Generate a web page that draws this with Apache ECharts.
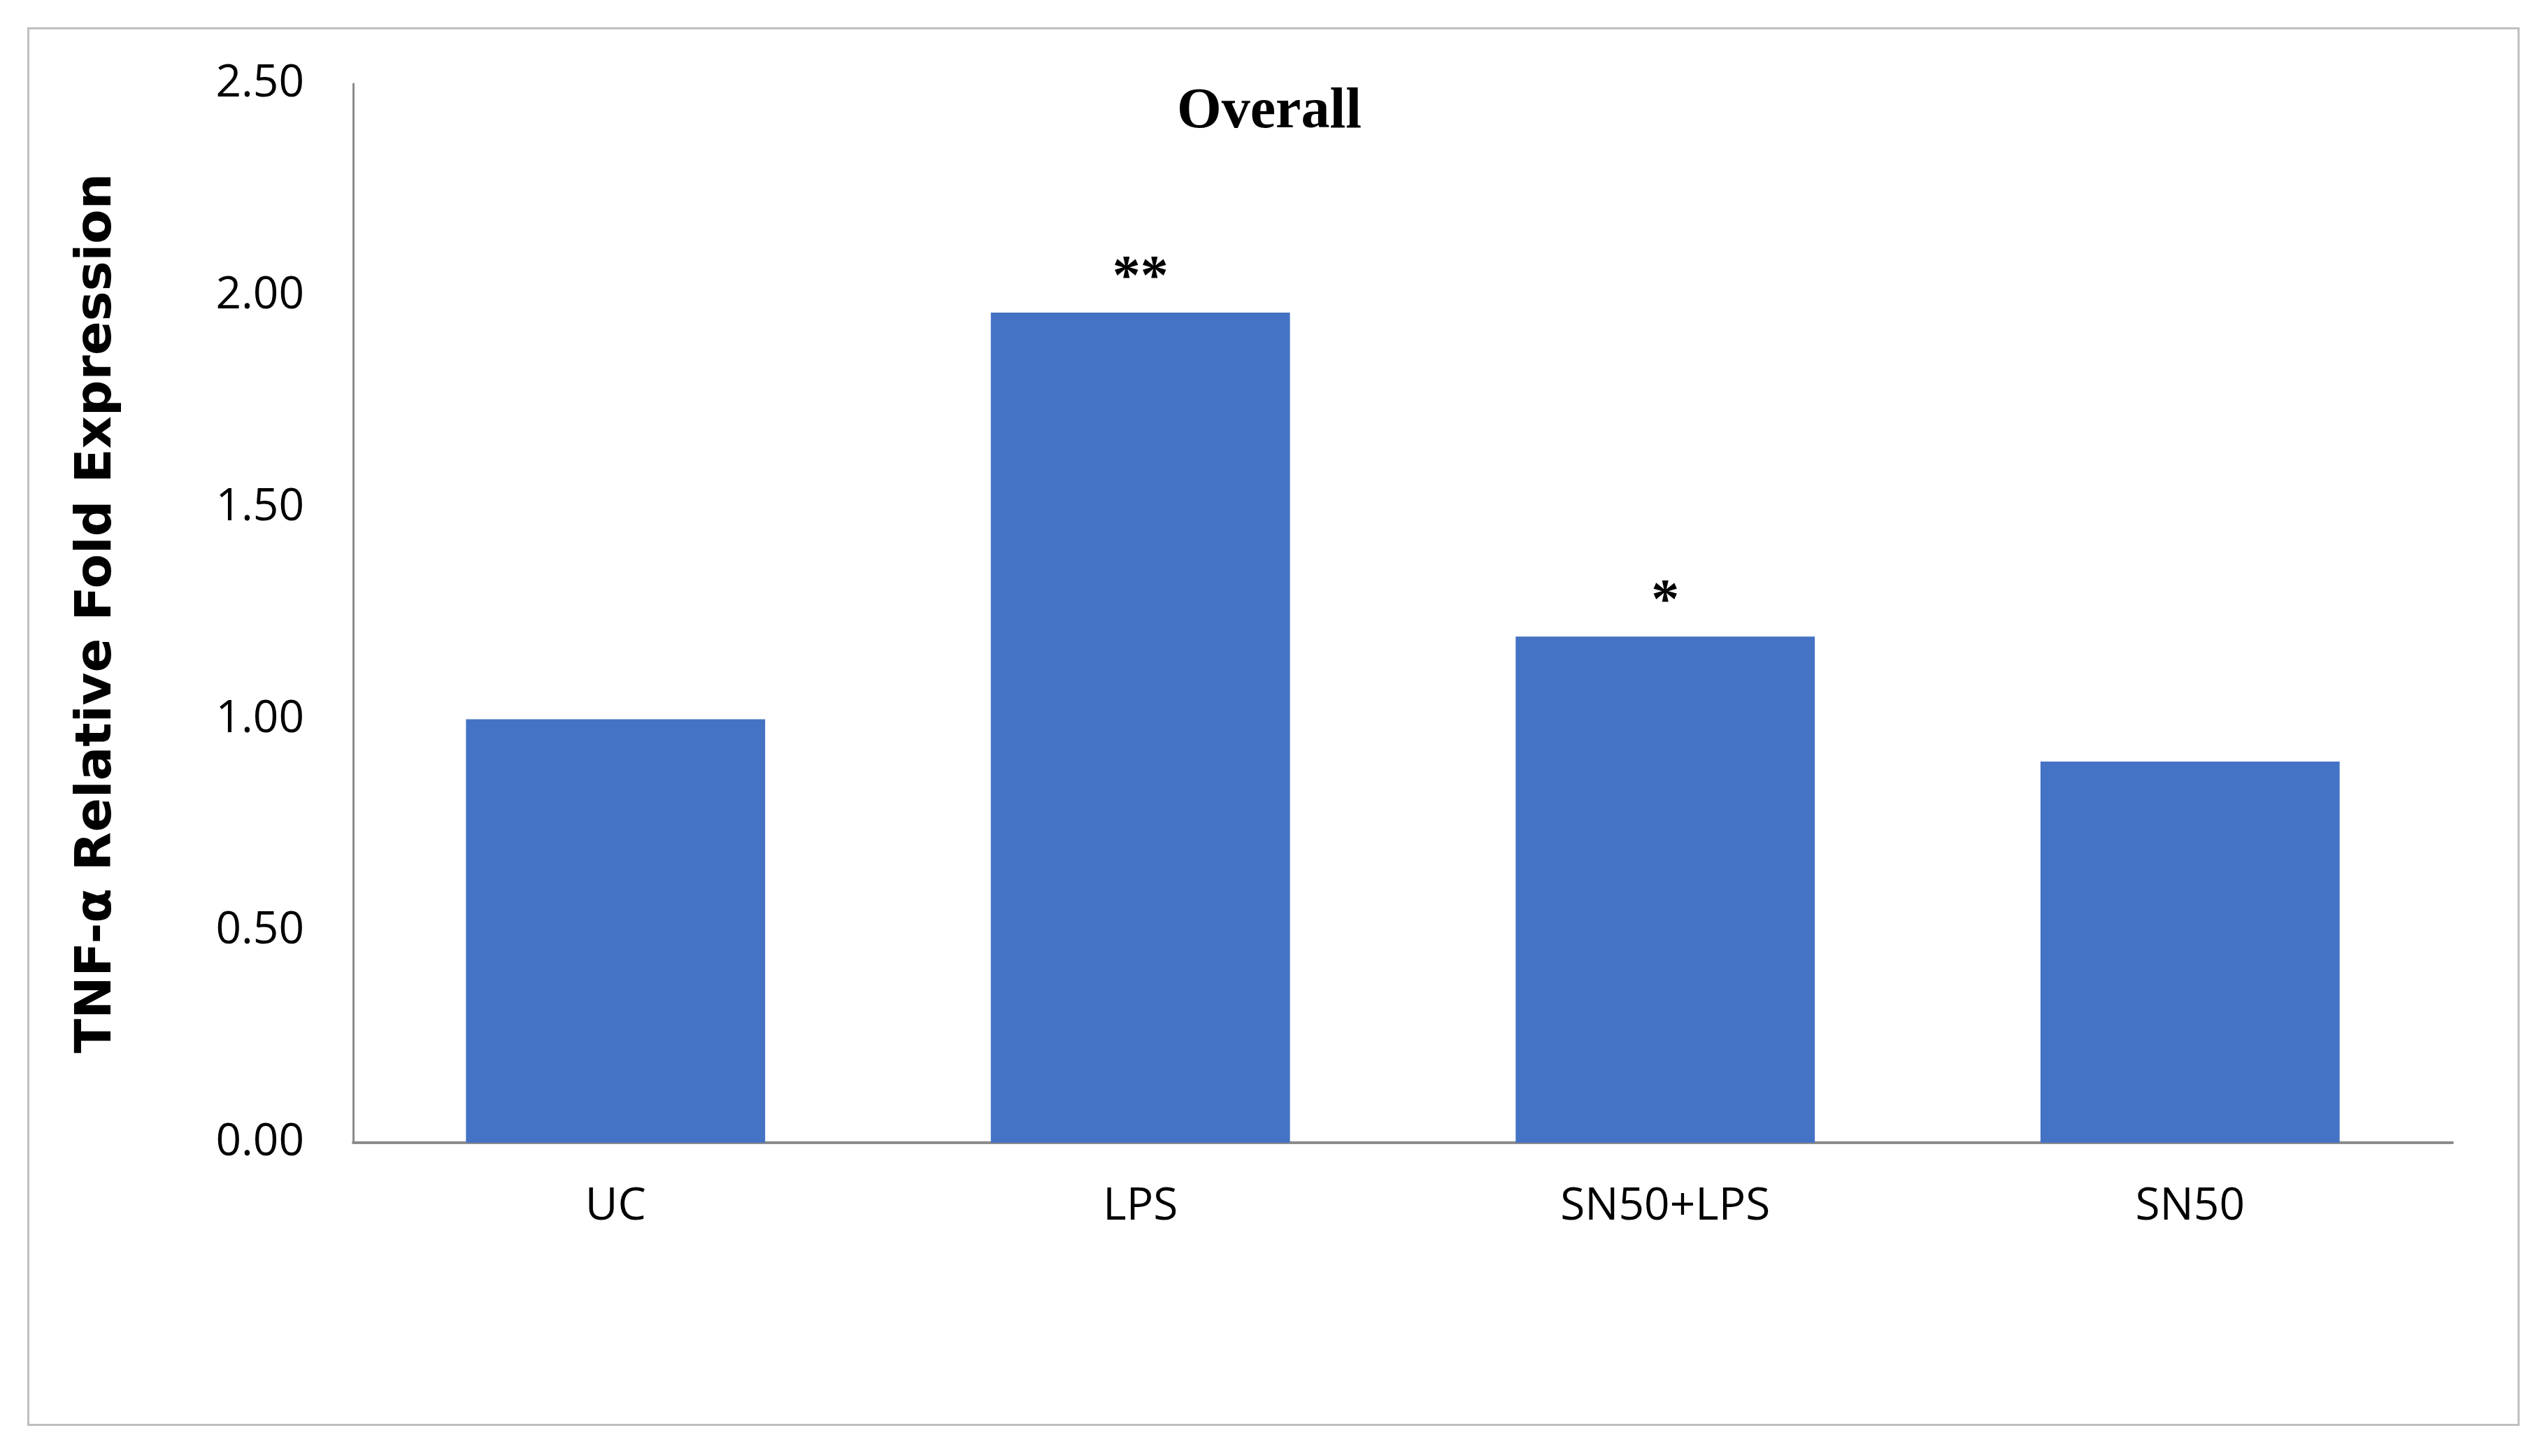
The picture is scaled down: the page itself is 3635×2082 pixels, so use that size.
<!DOCTYPE html>
<html>
<head>
<meta charset="utf-8">
<script src="https://cdn.jsdelivr.net/npm/echarts@6/dist/echarts.min.js"></script>
<style>
html,body{margin:0;padding:0;background:#fff;}
#main{width:3635px;height:2082px;}
.frame{position:absolute;left:39px;top:39px;width:3558px;height:1994px;border:3px solid #bfbfbf;pointer-events:none;}
</style>
</head>
<body>
<div id="main"></div>
<div class="frame"></div>
<script>
var categories = ['UC', 'LPS', 'SN50+LPS', 'SN50'];
var values = [1.00, 1.96, 1.195, 0.90];
var marks = ['', '**', '*', ''];

var chart = echarts.init(document.getElementById('main'));
var option = {
    backgroundColor: '#fff',
    animation: false,
    title: {
        text: 'Overall',
        left: 1810,
        top: 115,
        textAlign: 'center',
        textStyle: {fontFamily: 'Liberation Serif', fontWeight: 'bold', fontSize: 82, color: '#000'}
    },
    grid: {left: 505, right: 128, top: 120, bottom: 448},
    xAxis: {
        type: 'category',
        data: categories,
        axisLine: {lineStyle: {color: '#8c8c8c', width: 4}},
        axisTick: {show: false},
        axisLabel: {fontFamily: 'Open Sans', fontSize: 64, color: '#000', margin: 60}
    },
    yAxis: {
        type: 'value',
        min: 0, max: 2.5, interval: 0.5,
        name: 'TNF-α Relative Fold Expression',
        nameLocation: 'middle',
        nameGap: 330,
        nameTextStyle: {fontFamily: 'DejaVu Sans', fontWeight: 'bold', fontSize: 72, color: '#000'},
        axisLine: {show: true, lineStyle: {color: '#8c8c8c', width: 3}},
        axisTick: {show: false},
        splitLine: {show: false},
        axisLabel: {
            fontFamily: 'Open Sans', fontSize: 64, color: '#000', margin: 70,
            formatter: function (v) { return v.toFixed(2); }
        }
    },
    series: [{
        type: 'bar',
        data: values,
        barWidth: '57%',
        itemStyle: {color: '#4472C4'},
        label: {
            show: true,
            position: 'top',
            distance: 8,
            formatter: function (p) { return marks[p.dataIndex]; },
            fontFamily: 'Liberation Serif', fontWeight: 'bold', fontSize: 80, color: '#000'
        }
    }]
};
chart.setOption(option);
</script>
</body>
</html>
